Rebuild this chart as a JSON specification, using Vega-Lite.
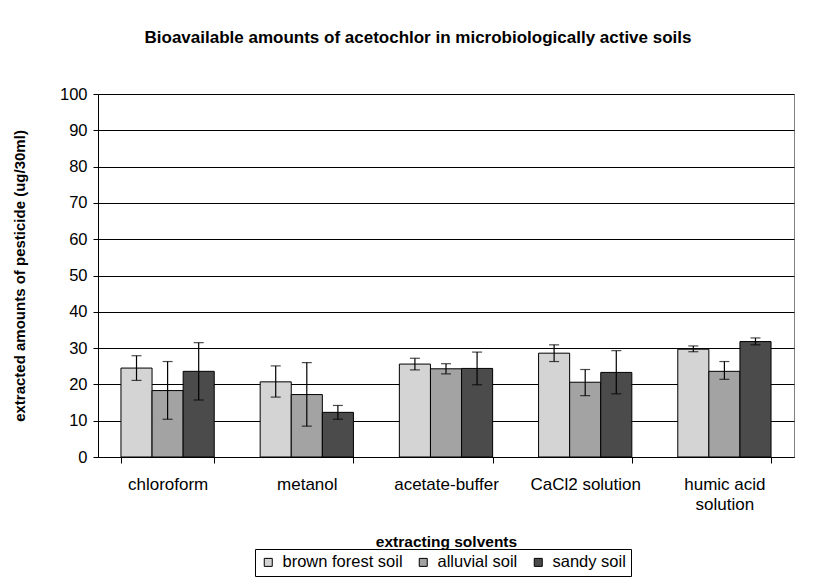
{
  "$schema": "https://vega.github.io/schema/vega-lite/v6.json",
  "width": 696,
  "height": 363,
  "autosize": {"type": "pad"},
  "padding": {"left": 12, "top": 29, "right": 40, "bottom": 5},
  "background": "white",
  "title": {
    "text": "Bioavailable amounts of acetochlor in microbiologically active soils",
    "font": "Liberation Sans",
    "fontSize": 17,
    "fontWeight": "bold",
    "color": "black",
    "anchor": "middle",
    "dx": -28,
    "offset": 39
  },
  "config": {
    "font": "Liberation Sans",
    "view": {"stroke": "#808080", "strokeWidth": 1},
    "axisY": {
      "tickCount": 10,
      "labelFontSize": 16.5,
      "labelColor": "black",
      "labelPadding": 6,
      "tickSize": 5,
      "tickColor": "black",
      "domainColor": "black",
      "gridColor": "black",
      "gridOpacity": 1,
      "titleFontSize": 15,
      "titleFontWeight": "bold",
      "titleColor": "black",
      "titlePadding": 32
    }
  },
  "data": {
    "values": [
      {"solvent": "chloroform", "soil": "brown forest soil", "mean": 24.5, "lo": 21.1, "hi": 27.9},
      {"solvent": "chloroform", "soil": "alluvial soil", "mean": 18.3, "lo": 10.4, "hi": 26.3},
      {"solvent": "chloroform", "soil": "sandy soil", "mean": 23.6, "lo": 15.7, "hi": 31.5},
      {"solvent": "metanol", "soil": "brown forest soil", "mean": 20.7, "lo": 16.5, "hi": 25.1},
      {"solvent": "metanol", "soil": "alluvial soil", "mean": 17.2, "lo": 8.5, "hi": 26.0},
      {"solvent": "metanol", "soil": "sandy soil", "mean": 12.3, "lo": 10.4, "hi": 14.2},
      {"solvent": "acetate-buffer", "soil": "brown forest soil", "mean": 25.6, "lo": 24.0, "hi": 27.2},
      {"solvent": "acetate-buffer", "soil": "alluvial soil", "mean": 24.3, "lo": 22.9, "hi": 25.7},
      {"solvent": "acetate-buffer", "soil": "sandy soil", "mean": 24.4, "lo": 19.9, "hi": 28.9},
      {"solvent": "CaCl2 solution", "soil": "brown forest soil", "mean": 28.6, "lo": 26.3, "hi": 30.9},
      {"solvent": "CaCl2 solution", "soil": "alluvial soil", "mean": 20.6, "lo": 16.9, "hi": 24.1},
      {"solvent": "CaCl2 solution", "soil": "sandy soil", "mean": 23.3, "lo": 17.4, "hi": 29.3},
      {"solvent": "humic acid solution", "soil": "brown forest soil", "mean": 29.7, "lo": 29.0, "hi": 30.6},
      {"solvent": "humic acid solution", "soil": "alluvial soil", "mean": 23.6, "lo": 21.4, "hi": 26.3},
      {"solvent": "humic acid solution", "soil": "sandy soil", "mean": 31.8, "lo": 30.9, "hi": 32.8}
    ]
  },
  "encoding": {
    "x": {
      "field": "solvent",
      "type": "nominal",
      "sort": ["chloroform", "metanol", "acetate-buffer", "CaCl2 solution", "humic acid solution"],
      "scale": {"paddingInner": 0.33, "paddingOuter": 0.165},
      "title": "extracting solvents",
      "axis": {
        "labelAngle": 0,
        "labelFontSize": 17,
        "labelColor": "black",
        "labelPadding": 13,
        "labelExpr": "datum.label == 'humic acid solution' ? ['humic acid', 'solution'] : datum.label",
        "labelLineHeight": 20,
        "tickBand": "extent",
        "tickSize": 6,
        "tickColor": "black",
        "domainColor": "black",
        "titleFontSize": 15.5,
        "titleFontWeight": "bold",
        "titleColor": "black",
        "titlePadding": 22
      }
    },
    "xOffset": {
      "field": "soil",
      "type": "nominal",
      "sort": ["brown forest soil", "alluvial soil", "sandy soil"]
    }
  },
  "layer": [
    {
      "mark": {"type": "bar", "stroke": "black", "strokeWidth": 1},
      "encoding": {
        "y": {
          "field": "mean",
          "type": "quantitative",
          "scale": {"domain": [0, 100]},
          "title": "extracted amounts of pesticide (ug/30ml)"
        },
        "color": {
          "field": "soil",
          "type": "nominal",
          "sort": ["brown forest soil", "alluvial soil", "sandy soil"],
          "scale": {
            "domain": ["brown forest soil", "alluvial soil", "sandy soil"],
            "range": ["#d4d4d4", "#a3a3a3", "#4b4b4b"]
          },
          "legend": {
            "title": null,
            "orient": "none",
            "legendX": 157,
            "legendY": 455,
            "direction": "horizontal",
            "strokeColor": "black",
            "padding": 5,
            "symbolType": "square",
            "symbolSize": 64,
            "symbolStrokeColor": "black",
            "symbolStrokeWidth": 1,
            "symbolOpacity": 1,
            "labelFontSize": 16.5,
            "labelColor": "black",
            "columnPadding": 12,
            "labelOffset": 6
          }
        }
      }
    },
    {
      "mark": {"type": "rule", "color": "black", "strokeWidth": 1.2},
      "encoding": {
        "y": {"field": "lo", "type": "quantitative"},
        "y2": {"field": "hi"}
      }
    },
    {
      "mark": {"type": "tick", "color": "black", "thickness": 1.2, "size": 10, "orient": "horizontal"},
      "encoding": {"y": {"field": "lo", "type": "quantitative"}}
    },
    {
      "mark": {"type": "tick", "color": "black", "thickness": 1.2, "size": 10, "orient": "horizontal"},
      "encoding": {"y": {"field": "hi", "type": "quantitative"}}
    }
  ]
}
